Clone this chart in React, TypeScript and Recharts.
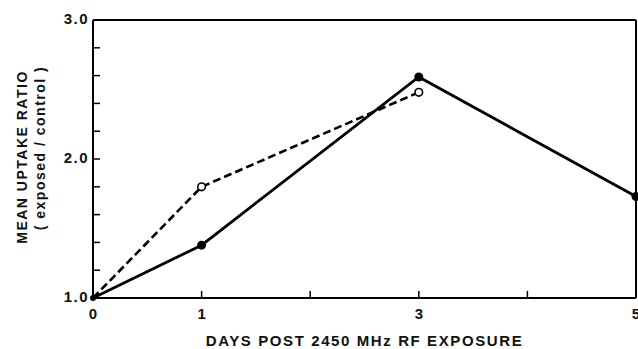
import React from 'react';
import { LineChart, Line, XAxis, YAxis, ReferenceLine } from 'recharts';

const days = [0, 1, 3, 5];
const solidSeries = [1.0, 1.38, 2.59, 1.73];
const dashedSeries = [1.0, 1.8, 2.48, null];
const xTicks = [0, 1, 2, 3, 4, 5];
const xTickLabels = ['0', '1', '', '3', '', '5'];
const yTicks = [1.0, 1.2, 1.4, 1.6, 1.8, 2.0, 2.2, 2.4, 2.6, 2.8, 3.0];
const yTickLabels = ['1.0', '', '', '', '', '2.0', '', '', '', '', '3.0'];

const data = days.map((d, i) => ({ day: d, solid: solidSeries[i], dashed: dashedSeries[i] }));

const FONT = '"Liberation Sans", Arial, sans-serif';

const XTick = (props: any) => {
  const { x, y, payload } = props;
  const idx = xTicks.indexOf(payload.value);
  const label = idx >= 0 ? xTickLabels[idx] : '';
  return (
    <g>
      <line x1={x} y1={y} x2={x} y2={y - 7} stroke="#000" strokeWidth={1.5} />
      {label && (
        <text x={x} y={y + 21} textAnchor="middle" fontFamily={FONT} fontWeight="bold" fontSize={15} fill="#111">
          {label}
        </text>
      )}
    </g>
  );
};

const YTick = (props: any) => {
  const { x, y, payload } = props;
  const idx = yTicks.findIndex((v) => Math.abs(v - payload.value) < 1e-6);
  const label = idx >= 0 ? yTickLabels[idx] : '';
  return (
    <g>
      <line x1={x} y1={y} x2={x + 7} y2={y} stroke="#000" strokeWidth={1.5} />
      {label && (
        <text x={x - 4} y={y + 4} textAnchor="end" fontFamily={FONT} fontWeight="bold" fontSize={15} letterSpacing={1.5} fill="#111">
          {label}
        </text>
      )}
    </g>
  );
};

const OpenDot = (props: any) => {
  const { cx, cy, index, value } = props;
  if (value == null || cx == null || cy == null || index === 0) return <g key={'o' + index} />;
  return <circle key={'o' + index} cx={cx} cy={cy} r={3.8} fill="#fff" stroke="#000" strokeWidth={1.6} />;
};

const FilledDot = (props: any) => {
  const { cx, cy, index } = props;
  if (cx == null || cy == null) return <g key={'f' + index} />;
  return <circle key={'f' + index} cx={cx} cy={cy} r={index === 0 ? 3 : 4.5} fill="#000" stroke="none" />;
};

export default function App() {
  return (
    <div style={{ position: 'absolute', left: 0, top: 0, width: 638, height: 349, background: '#fff' }}>
      <LineChart
        width={638}
        height={349}
        data={data}
        margin={{ top: 20, right: 2, bottom: 0, left: 0 }}
      >
        <XAxis
          dataKey="day"
          type="number"
          domain={[0, 5]}
          ticks={xTicks}
          interval={0}
          height={51}
          tickSize={0}
          tickMargin={0}
          tickLine={false}
          axisLine={{ stroke: '#000', strokeWidth: 2 }}
          tick={<XTick />}
          label={{
            value: 'DAYS POST 2450 MHz RF EXPOSURE',
            position: 'insideBottom',
            offset: 3,
            style: { fontFamily: FONT, fontWeight: 'bold', fontSize: 15, fill: '#111', letterSpacing: 1.6 },
          }}
        />
        <YAxis
          type="number"
          domain={[1, 3]}
          ticks={yTicks}
          interval={0}
          width={93}
          tickSize={0}
          tickMargin={0}
          tickLine={false}
          axisLine={{ stroke: '#000', strokeWidth: 2 }}
          tick={<YTick />}
        />
        <ReferenceLine y={3} stroke="#000" strokeWidth={2} />
        <ReferenceLine x={5} stroke="#000" strokeWidth={2} />
        <text x={22} y={157} transform="rotate(-90 22 157)" textAnchor="middle" dominantBaseline="central" fontFamily={FONT} fontWeight="bold" fontSize={14} fill="#111" letterSpacing={1.5}>
          MEAN UPTAKE RATIO
        </text>
        <text x={40} y={148} transform="rotate(-90 40 148)" textAnchor="middle" dominantBaseline="central" fontFamily={FONT} fontWeight="bold" fontSize={14} fill="#111" letterSpacing={1.5}>
          ( exposed / control )
        </text>
        <Line
          dataKey="dashed"
          stroke="#000"
          strokeWidth={2.6}
          strokeDasharray="8 4"
          dot={<OpenDot />}
          activeDot={false}
          isAnimationActive={false}
          connectNulls={false}
        />
        <Line
          dataKey="solid"
          stroke="#000"
          strokeWidth={2.8}
          dot={<FilledDot />}
          activeDot={false}
          isAnimationActive={false}
        />
      </LineChart>
    </div>
  );
}
